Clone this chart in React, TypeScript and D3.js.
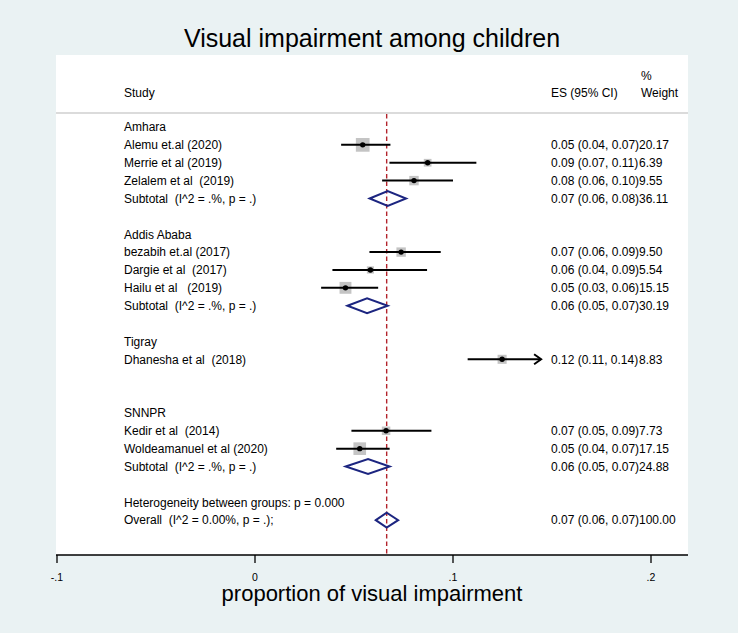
import React from "react";
import * as d3 from "d3";

// ---- data ----
const groupNames = ["Amhara", "Addis Ababa", "Tigray", "SNNPR"];
const studyLabels = [
  "Alemu et.al (2020)",
  "Merrie et al (2019)",
  "Zelalem et al  (2019)",
  "bezabih et.al (2017)",
  "Dargie et al  (2017)",
  "Hailu et al   (2019)",
  "Dhanesha et al  (2018)",
  "Kedir et al  (2014)",
  "Woldeamanuel et al (2020)",
];
const studyGroup = [0, 0, 0, 1, 1, 1, 2, 3, 3];
const studyES = [0.0544, 0.0872, 0.0803, 0.0738, 0.0583, 0.0457, 0.1248, 0.0662, 0.0529];
const studyLo = [0.0435, 0.0679, 0.0642, 0.0578, 0.0391, 0.0334, 0.1074, 0.0487, 0.041];
const studyHi = [0.0684, 0.1118, 0.1, 0.0938, 0.0869, 0.0622, 0.1445, 0.0891, 0.068];
const studyArrow = [false, false, false, false, false, false, true, false, false];
const studyWeight = [20.17, 6.39, 9.55, 9.5, 5.54, 15.15, 8.83, 7.73, 17.15];
const studyESText = [
  "0.05 (0.04, 0.07)",
  "0.09 (0.07, 0.11)",
  "0.08 (0.06, 0.10)",
  "0.07 (0.06, 0.09)",
  "0.06 (0.04, 0.09)",
  "0.05 (0.03, 0.06)",
  "0.12 (0.11, 0.14)",
  "0.07 (0.05, 0.09)",
  "0.05 (0.04, 0.07)",
];
const studyWeightText = ["20.17", "6.39", "9.55", "9.50", "5.54", "15.15", "8.83", "7.73", "17.15"];

// subtotals (group index, es, lo, hi)
const subGroup = [0, 1, 3];
const subES = [0.067, 0.0566, 0.0571];
const subLo = [0.0579, 0.0467, 0.0458];
const subHi = [0.0763, 0.067, 0.068];
const subESText = ["0.07 (0.06, 0.08)", "0.06 (0.05, 0.07)", "0.06 (0.05, 0.07)"];
const subWeightText = ["36.11", "30.19", "24.88"];
const subLabel = "Subtotal  (I^2 = .%, p = .)";

const overallES = 0.0665;
const overallLo = 0.061;
const overallHi = 0.0723;
const overallESText = "0.07 (0.06, 0.07)";
const overallWeightText = "100.00";
const overallLabel = "Overall  (I^2 = 0.00%, p = .);";
const hetLabel = "Heterogeneity between groups: p = 0.000";

const xTicks = [-0.1, 0, 0.1, 0.2];
const xTickLabels = ["-.1", "0", ".1", ".2"];

const title = "Visual impairment among children";
const xTitle = "proportion of visual impairment";

// ---- layout ----
const W = 738;
const H = 633;
const panelL = 56;
const panelR = 688;
const panelT = 55;
const axisY = 555;
const FONT = "'Liberation Sans', Arial, Helvetica, sans-serif";

type Row =
  | { kind: "group"; label: string }
  | { kind: "study"; i: number }
  | { kind: "sub"; j: number }
  | { kind: "blank" }
  | { kind: "het" }
  | { kind: "overall" };

function buildRows(): Row[] {
  const rows: Row[] = [];
  groupNames.forEach((g, gi) => {
    rows.push({ kind: "group", label: g });
    studyGroup.forEach((sg, i) => {
      if (sg === gi) rows.push({ kind: "study", i });
    });
    const j = subGroup.indexOf(gi);
    if (j >= 0) rows.push({ kind: "sub", j });
    else rows.push({ kind: "blank" });
    rows.push({ kind: "blank" });
  });
  rows.push({ kind: "het" });
  rows.push({ kind: "overall" });
  return rows;
}

export default function App() {
  const rows = buildRows();
  const x = d3.scaleLinear().domain([-0.1, 0.2]).range([57, 651]);
  const y = d3.scaleLinear().domain([0, 1]).range([127, 127 + 17.87]);
  const sq = (w: number) => 3.05 * Math.sqrt(w);
  const diamondH = 7.5;
  const navy = "#1c2580";
  const labelX = 124;
  const esX = 551;
  const wX = 639;

  const diamond = (lo: number, es: number, hi: number, yc: number) =>
    `M${x(lo)},${yc} L${x(es)},${yc - diamondH} L${x(hi)},${yc} L${x(es)},${yc + diamondH} Z`;

  const textProps = {
    fontFamily: FONT,
    fontSize: 12,
    fill: "#000",
    style: { whiteSpace: "pre" as const },
  };

  return (
    <svg
      width={W}
      height={H}
      style={{ position: "absolute", left: 0, top: 0, display: "block" }}
      xmlSpace="preserve"
    >
      <rect x={0} y={0} width={W} height={H} fill="#eaf2f3" />
      <rect x={panelL} y={panelT} width={panelR - panelL} height={axisY - panelT} fill="#fff" />

      <text x={372} y={47} textAnchor="middle" fontFamily={FONT} fontSize={25} fill="#000">
        {title}
      </text>

      {/* header */}
      <text {...textProps} x={labelX} y={96.5}>Study</text>
      <text {...textProps} x={esX} y={96.5}>ES (95% CI)</text>
      <text {...textProps} x={641} y={80}>%</text>
      <text {...textProps} x={641} y={96.5}>Weight</text>
      <line x1={panelL} x2={panelR} y1={113} y2={113} stroke="#cfcfcf" strokeWidth={1.5} />

      {/* reference line */}
      <line
        x1={x(overallES)}
        x2={x(overallES)}
        y1={114}
        y2={axisY}
        stroke="#b3242c"
        strokeWidth={1.4}
        strokeDasharray="4.5,3"
      />

      {rows.map((r, k) => {
        const yc = y(k);
        const ty = yc + 4.3;
        if (r.kind === "group")
          return (
            <text key={k} {...textProps} x={labelX} y={ty}>
              {r.label}
            </text>
          );
        if (r.kind === "study") {
          const i = r.i;
          const s = sq(studyWeight[i]);
          const xe = x(studyHi[i]);
          return (
            <g key={k}>
              <text {...textProps} x={labelX} y={ty}>
                {studyLabels[i]}
              </text>
              <rect x={x(studyES[i]) - s / 2} y={yc - s / 2} width={s} height={s} fill="#c4c4c4" />
              <line x1={x(studyLo[i])} x2={xe} y1={yc} y2={yc} stroke="#000" strokeWidth={2} />
              {studyArrow[i] && (
                <path
                  d={`M${xe - 7},${yc - 5} L${xe},${yc} L${xe - 7},${yc + 5}`}
                  fill="none"
                  stroke="#000"
                  strokeWidth={2}
                />
              )}
              <circle cx={x(studyES[i])} cy={yc} r={2.7} fill="#000" />
              <text {...textProps} x={esX} y={ty}>
                {studyESText[i]}
              </text>
              <text {...textProps} x={wX} y={ty}>
                {studyWeightText[i]}
              </text>
            </g>
          );
        }
        if (r.kind === "sub") {
          const j = r.j;
          return (
            <g key={k}>
              <text {...textProps} x={labelX} y={ty}>
                {subLabel}
              </text>
              <path d={diamond(subLo[j], subES[j], subHi[j], yc)} fill="none" stroke={navy} strokeWidth={2} />
              <text {...textProps} x={esX} y={ty}>
                {subESText[j]}
              </text>
              <text {...textProps} x={wX} y={ty}>
                {subWeightText[j]}
              </text>
            </g>
          );
        }
        if (r.kind === "het")
          return (
            <text key={k} {...textProps} x={labelX} y={ty}>
              {hetLabel}
            </text>
          );
        if (r.kind === "overall")
          return (
            <g key={k}>
              <text {...textProps} x={labelX} y={ty}>
                {overallLabel}
              </text>
              <path d={diamond(overallLo, overallES, overallHi, yc)} fill="none" stroke={navy} strokeWidth={2} />
              <text {...textProps} x={esX} y={ty}>
                {overallESText}
              </text>
              <text {...textProps} x={wX} y={ty}>
                {overallWeightText}
              </text>
            </g>
          );
        return null;
      })}

      {/* axis */}
      <line x1={panelL} x2={panelR} y1={axisY} y2={axisY} stroke="#000" strokeWidth={1.5} />
      {xTicks.map((t, i) => (
        <g key={i}>
          <line x1={x(t)} x2={x(t)} y1={axisY} y2={axisY + 8} stroke="#000" strokeWidth={1.3} />
          <text x={x(t)} y={580.5} textAnchor="middle" fontFamily={FONT} fontSize={10.5} fill="#000">
            {xTickLabels[i]}
          </text>
        </g>
      ))}
      <text x={372} y={601} textAnchor="middle" fontFamily={FONT} fontSize={22} fill="#000">
        {xTitle}
      </text>
    </svg>
  );
}
